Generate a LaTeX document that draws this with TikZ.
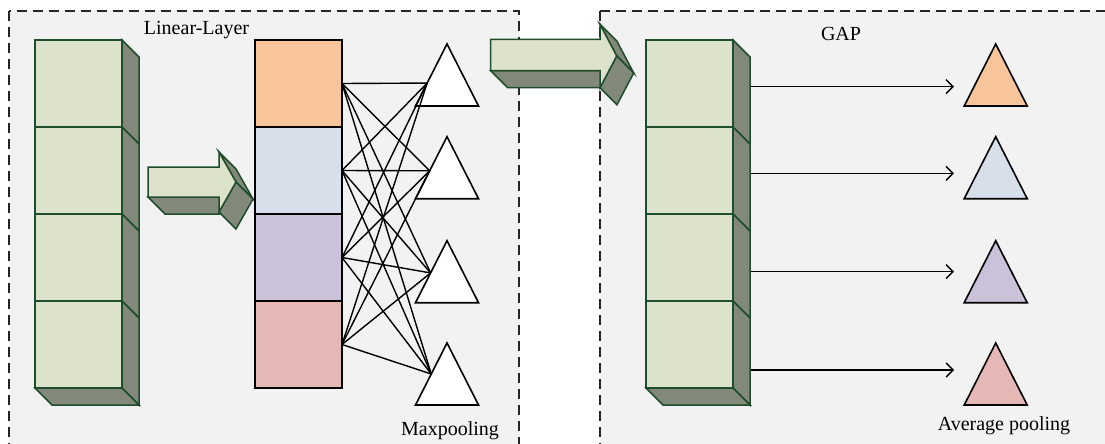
\documentclass[tikz,border=0pt]{standalone}
\usepackage{fontspec}
\setmainfont{Liberation Serif}
\usetikzlibrary{arrows.meta}
\definecolor{frontg}{RGB}{221,226,204}
\definecolor{sideg}{RGB}{131,137,122}
\definecolor{edgeg}{RGB}{30,77,43}
\definecolor{bgray}{RGB}{242,242,242}
\definecolor{corange}{RGB}{248,197,155}
\definecolor{cblue}{RGB}{214,223,234}
\definecolor{clav}{RGB}{203,194,218}
\definecolor{cpink}{RGB}{229,184,181}
\tikzset{
  panel/.style={fill=bgray,draw=black!85,line width=1.5pt,dash pattern=on 10pt off 6pt},
  cubecell/.style={rectangle,fill=frontg,draw=edgeg,line width=1.5pt,minimum width=87pt,minimum height=87pt,inner sep=0pt,outer sep=0pt,anchor=north west},
  cubeside/.style={fill=sideg,draw=edgeg,line width=1.5pt,line join=miter},
  cubefront/.style={fill=frontg,draw=edgeg,line width=1.5pt,line join=miter},
  cellbox/.style={rectangle,draw=black,line width=1.6pt,minimum width=87pt,minimum height=87pt,inner sep=0pt,outer sep=0pt,anchor=north west},
  tri/.style={draw=black,line width=1.6pt,line join=miter},
  link/.style={black,line width=1.4pt},
  outarrow/.style={black,line width=1.4pt,-{Straight Barb[length=7pt,width=14pt,line width=1.4pt]}},
  lbl/.style={font=\fontsize{20}{23}\selectfont,inner sep=0pt,anchor=base}
}
% cube column: #1 left x, #2 top y, #3 name prefix
\newcommand\mycubecolumn[3]{%
  \foreach \i in {0,...,3}{%
    \draw[cubeside] (#1+87,#2+87*\i) -- ++(17,17) -- ++(0,87) -- ++(-17,-17) -- cycle;
  }
  \draw[cubeside] (#1,#2+348) -- ++(17,17) -- ++(87,0) -- ++(-17,-17) -- cycle;
  \foreach \i in {1,...,4}{%
    \node[cubecell] (#3\i) at (#1,#2+87*\i-87) {};
  }
}
% 3D arrow: #1 x0, #2 body top, #3 body bottom, #4 head base x, #5 head top, #6 head bottom, #7 tip x, #8 tip y
\newcommand\myfatarrow[8]{%
  \draw[cubeside] (#1,#3) -- (#4,#3) -- (#4+17,#3+17) -- (#1+17,#3+17) -- cycle;
  \draw[cubeside] (#4,#5) -- (#7,#8) -- (#7+17,#8+17) -- (#4+17,#5+17) -- cycle;
  \draw[cubeside] (#7,#8) -- (#4,#6) -- (#4+17,#6+17) -- (#7+17,#8+17) -- cycle;
  \draw[cubefront] (#1,#2) -- (#4,#2) -- (#4,#5) -- (#7,#8) -- (#4,#6) -- (#4,#3) -- (#1,#3) -- cycle;
}
% triangle: #1 apex x, #2 apex y, #3 fill, #4 name of link point, #5 fraction
\newcommand\mytri[5]{%
  \draw[tri,fill=#3] (#1,#2) -- (#1+31.5,#2+62) -- (#1-31.5,#2+62) -- cycle;
  \coordinate (#4) at (#1-31.5*#5,#2+62*#5);
}
\begin{document}
\begin{tikzpicture}[x=1pt,y=-1pt]
\useasboundingbox (0,0) rectangle (1105,444);
\clip (0,0) rectangle (1105,444);
\fill[white] (0,0) rectangle (1105,444);
% panels
\draw[panel] (9,11) rectangle (519,470);
\draw[panel] (600,11) rectangle (1130,470);
% left cube column
\mycubecolumn{35}{40}{L}
% small arrow
\myfatarrow{148}{167}{197}{219}{152}{212}{236}{182}
% coloured column
\node[cellbox,fill=corange] (C1) at (255,40) {};
\node[cellbox,fill=cblue] (C2) at (255,127) {};
\node[cellbox,fill=clav] (C3) at (255,214) {};
\node[cellbox,fill=cpink] (C4) at (255,301) {};
% left triangles
\mytri{447}{44}{white}{T1}{0.63}
\mytri{447}{136.7}{white}{T2}{0.55}
\mytri{447}{240.7}{white}{T3}{0.52}
\mytri{447}{343}{white}{T4}{0.5}
\foreach \i in {1,...,4}{
  \foreach \j in {1,...,4}{
    \draw[link] (C\i.east) -- (T\j);
  }
}
% big arrow
\myfatarrow{490.7}{39.3}{70.7}{600}{24.3}{87.7}{616.7}{56}
% right cube column
\mycubecolumn{646}{40}{R}
% right triangles
\mytri{995.7}{44}{corange}{P1}{0.5}
\mytri{995.7}{136.7}{cblue}{P2}{0.5}
\mytri{995.7}{240.7}{clav}{P3}{0.5}
\mytri{995.7}{343}{cpink}{P4}{0.5}
% output arrows
\coordinate (S1) at (751,86.7);  \coordinate (E1) at (954,86.7);
\coordinate (S2) at (751,173.3); \coordinate (E2) at (954,173.3);
\coordinate (S3) at (751,271.7); \coordinate (E3) at (954,271.7);
\coordinate (S4) at (751,370);   \coordinate (E4) at (954,370);
\foreach \i in {1,...,4}{
  \draw[outarrow] (S\i) -- (E\i);
}
% labels
\node[lbl] (lin) at (196.5,35) {Linear-Layer};
\node[lbl] (gap) at (841,41) {GAP};
\node[lbl] (maxp) at (450,435) {Maxpooling};
\node[lbl] (avgp) at (1004,430.7) {Average pooling};
\end{tikzpicture}
\end{document}
